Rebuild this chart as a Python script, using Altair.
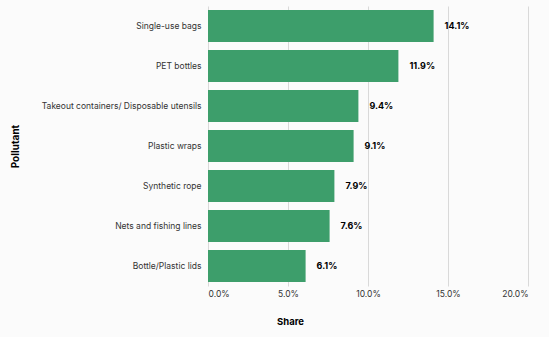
import altair as alt
import pandas as pd

pollutants = [
    "Single-use bags",
    "PET bottles",
    "Takeout containers/ Disposable utensils",
    "Plastic wraps",
    "Synthetic rope",
    "Nets and fishing lines",
    "Bottle/Plastic lids",
]
shares = [0.141, 0.119, 0.094, 0.091, 0.079, 0.076, 0.061]

df = pd.DataFrame({"Pollutant": pollutants, "Share": shares})

FONT = "Inter"

y = alt.Y(
    "Pollutant:N",
    sort=pollutants,
    scale=alt.Scale(paddingInner=0.2, paddingOuter=0.1),
    axis=alt.Axis(
        title="Pollutant",
        titleFont=FONT,
        titleFontSize=10,
        titleFontWeight="bold",
        titleColor="#000000",
        titleX=-193,
        titleY=140,
        titleAngle=270,
        titleAlign="center",
        titleBaseline="middle",
        labelFont=FONT,
        labelFontSize=8.5,
        labelColor="#333333",
        labelPadding=7,
        labelLimit=300,
        ticks=False,
        domain=False,
        grid=False,
    ),
)

x = alt.X(
    "Share:Q",
    scale=alt.Scale(domain=[0, 0.2]),
    axis=alt.Axis(
        title="Share",
        format=".1%",
        values=[0, 0.05, 0.1, 0.15, 0.2],
        titleFont=FONT,
        titleFontSize=9.5,
        titleFontWeight="bold",
        titleColor="#000000",
        titleX=82,
        titleY=35,
        titleAlign="center",
        titleBaseline="middle",
        labelFont=FONT,
        labelFontSize=8.5,
        labelColor="#333333",
        labelPadding=3,
        ticks=False,
        domain=False,
        grid=True,
        gridColor="#d9d9d9",
        gridWidth=1,
    ),
)

bars = alt.Chart(df).mark_bar(color="#3d9e6b").encode(y=y, x=x)

labels = alt.Chart(df).mark_text(
    align="left", baseline="middle", dx=11, font=FONT, fontSize=9,
    fontWeight="bold", color="#000000"
).encode(
    y=alt.Y("Pollutant:N", sort=pollutants),
    x="Share:Q",
    text=alt.Text("Share:Q", format=".1%"),
)

chart = (
    alt.layer(bars, labels)
    .properties(
        width=320,
        height=280,
        background="#fbfbfb",
        padding={"left": 208, "top": 6, "right": 21, "bottom": 51},
        autosize=alt.AutoSizeParams(type="none"),
    )
    .configure_view(stroke=None)
)

chart.save("out.html", embed_options={"renderer": "svg", "actions": False})
